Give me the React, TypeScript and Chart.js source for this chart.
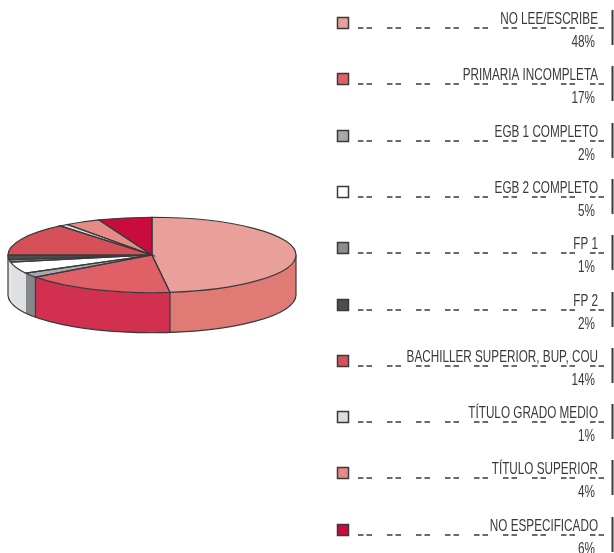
import React, { useEffect, useRef } from "react";
import { Chart, registerables } from "chart.js";

Chart.register(...registerables);

const categories = [
  "NO LEE/ESCRIBE",
  "PRIMARIA INCOMPLETA",
  "EGB 1 COMPLETO",
  "EGB 2 COMPLETO",
  "FP 1",
  "FP 2",
  "BACHILLER SUPERIOR, BUP, COU",
  "TÍTULO GRADO MEDIO",
  "TÍTULO SUPERIOR",
  "NO ESPECIFICADO",
];
const values = [48, 17, 2, 5, 1, 2, 14, 1, 4, 6];
const topColors = ["#EAA09A", "#DF6167", "#A8A9AB", "#FFFFFF", "#8A8C8E", "#4D4D4F", "#D6505A", "#DCDDDF", "#E58A84", "#C90C3C"];
const wallColors = ["#E07A74", "#D1304E", "#85878A", "#DFE0E2", "#DFE0E2", "#DFE0E2", "#C23A48", "#C4C5C7", "#CF6F6A", "#A30A30"];

const SQUASH = 0.262;
const DEPTH = 40;
const EDGE = "#3A3A3C";

const pie3d = {
  id: "pie3d",
  beforeDatasetsDraw(chart: any) {
    const { ctx } = chart;
    const arcs = chart.getDatasetMeta(0).data;
    if (!arcs.length) return;
    const cx = arcs[0].x;
    const cy = arcs[0].y;
    const rx = arcs[0].outerRadius;
    const ry = rx * SQUASH;
    const vertical = (a: number) => {
      ctx.beginPath();
      ctx.moveTo(cx + rx * Math.cos(a), cy + ry * Math.sin(a));
      ctx.lineTo(cx + rx * Math.cos(a), cy + ry * Math.sin(a) + DEPTH);
      ctx.stroke();
    };
    ctx.save();
    ctx.lineWidth = 1.2;
    ctx.strokeStyle = EDGE;
    arcs.forEach((arc: any, i: number) => {
      const a0 = Math.max(arc.startAngle, 0);
      const a1 = Math.min(arc.endAngle, Math.PI);
      if (a1 <= a0) return;
      ctx.beginPath();
      ctx.ellipse(cx, cy, rx, ry, 0, a0, a1);
      ctx.lineTo(cx + rx * Math.cos(a1), cy + ry * Math.sin(a1) + DEPTH);
      ctx.ellipse(cx, cy + DEPTH, rx, ry, 0, a1, a0, true);
      ctx.closePath();
      ctx.fillStyle = wallColors[i];
      ctx.fill();
    });
    ctx.beginPath();
    ctx.ellipse(cx, cy + DEPTH, rx, ry, 0, 0, Math.PI);
    ctx.stroke();
    vertical(0);
    vertical(Math.PI);
    arcs.forEach((arc: any) => {
      const a1 = Math.min(arc.endAngle, Math.PI);
      if (arc.startAngle > 0 && arc.startAngle < a1 && arc.startAngle < 2.6) vertical(arc.startAngle);
    });
    ctx.restore();
    ctx.save();
    ctx.translate(cx, cy);
    ctx.scale(1, SQUASH);
    ctx.translate(-cx, -cy);
  },
  afterDatasetsDraw(chart: any) {
    const { ctx } = chart;
    const arcs = chart.getDatasetMeta(0).data;
    if (!arcs.length) return;
    ctx.restore();
    const cx = arcs[0].x;
    const cy = arcs[0].y;
    const rx = arcs[0].outerRadius;
    const ry = rx * SQUASH;
    ctx.save();
    ctx.lineWidth = 1.2;
    ctx.strokeStyle = EDGE;
    arcs.forEach((arc: any) => {
      ctx.beginPath();
      ctx.moveTo(cx, cy);
      ctx.ellipse(cx, cy, rx, ry, 0, arc.startAngle, arc.endAngle);
      ctx.closePath();
      ctx.stroke();
    });
    ctx.restore();
  },
  afterDraw(chart: any) {
    const { ctx } = chart;
    const font = "17px 'Liberation Sans Narrow', 'Liberation Sans', sans-serif";
    const narrow = 0.69;
    categories.forEach((label, i) => {
      const y = Math.round(23 + 56.3 * i);
      ctx.save();
      ctx.fillStyle = topColors[i];
      ctx.strokeStyle = "#3A3A3C";
      ctx.lineWidth = 1.5;
      ctx.fillRect(337.5, y - 5.5, 11, 11);
      ctx.strokeRect(337.5, y - 5.5, 11, 11);
      ctx.lineWidth = 1.5;
      ctx.setLineDash([5.5, 3, 5.5, 15]);
      ctx.beginPath();
      ctx.moveTo(358, y + 5);
      ctx.lineTo(607, y + 5);
      ctx.stroke();
      ctx.setLineDash([]);
      ctx.lineWidth = 2;
      ctx.beginPath();
      ctx.moveTo(612.5, y - 13);
      ctx.lineTo(612.5, y + 22);
      ctx.stroke();
      ctx.fillStyle = "#3A3A3C";
      ctx.font = font;
      ctx.textAlign = "right";
      ctx.textBaseline = "alphabetic";
      ctx.translate(598, y + 1);
      ctx.scale(narrow, 1);
      ctx.fillText(label, 0, 0);
      ctx.restore();
      ctx.save();
      ctx.fillStyle = "#3A3A3C";
      ctx.font = font;
      ctx.textAlign = "right";
      ctx.translate(595, y + 24);
      ctx.scale(narrow, 1);
      ctx.fillText(values[i] + "%", 0, 0);
      ctx.restore();
    });
  },
};

export default function App() {
  const ref = useRef<HTMLCanvasElement>(null);
  useEffect(() => {
    const chart = new Chart(ref.current as HTMLCanvasElement, {
      type: "pie",
      data: {
        labels: categories,
        datasets: [{ data: values, backgroundColor: topColors, borderWidth: 0 }],
      },
      options: {
        animation: false,
        responsive: false,
        layout: { padding: { left: 8, right: 318, top: 111, bottom: 154 } },
        plugins: { legend: { display: false }, tooltip: { enabled: false } },
      },
      plugins: [pie3d],
    } as any);
    return () => chart.destroy();
  }, []);
  return (
    <div style={{ position: "absolute", left: 0, top: 0, width: 614, height: 553, background: "#fff" }}>
      <canvas ref={ref} width={614} height={553} style={{ display: "block" }} />
    </div>
  );
}
